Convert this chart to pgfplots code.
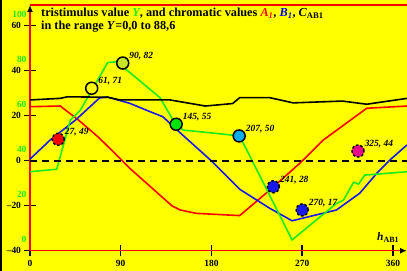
\documentclass[border=0pt]{standalone}
\usepackage{fontspec}
\setmainfont{Liberation Serif}
\usepackage{pgfplots}
\usepackage{pgfplotstable}
\pgfplotsset{compat=1.18}
\usetikzlibrary{arrows.meta}
\definecolor{bgy}{RGB}{255,255,0}
\definecolor{lgreen}{RGB}{30,235,30}
\definecolor{lime}{RGB}{200,230,40}
\definecolor{pblue}{RGB}{25,25,235}
\definecolor{pgreen}{RGB}{0,230,0}

\pgfplotstableread{
x y
0 24
30 24.3
48 18.1
69 10
99 -3.4
141 -20.1
149 -21.9
165 -23.4
208 -24.4
238 -13
268 -1
291 9.2
334 23.3
374 24.3
}\redtab

\pgfplotstableread{
x y
0 0.7
20 9.2
45 18
69 27.9
77 28.3
99 25.5
119 21.8
132 19.5
144 14.4
179 0.3
208 -12.7
238 -21.2
260 -26.7
304 -21.9
327 -14.5
344 -5.6
357 0.3
374 7
}\bluetab

\pgfplotstableread{
x y
0 -4.9
26.5 -3.8
40 18
50 22.5
77 43.6
86 44
96 40.3
129 28
142 18
145 16.2
152 13.6
179 12.4
200 11.4
208 11
260 -35.2
304 -19
311 -17.5
321 -9.6
326 -10.4
332 -6.4
374 -4.9
}\greentab

\pgfplotstableread{
x y
0 27
30 27.7
37 28.4
77 28.2
89 27
139 27
174 24.3
201 25.4
208 28
238 28
261 25.7
310 26.5
334 25.1
374 27.7
}\blacktab

\begin{document}
\begin{tikzpicture}
\fill[bgy] (0bp,0bp) rectangle (407bp,271bp);
\draw[black, line width=1.5bp] (0.75bp,0bp) -- (0.75bp,271bp);
\begin{axis}[
  at={(30bp,20.3bp)}, anchor=south west,
  scale only axis, width=377bp, height=245.7bp,
  xmin=0, xmax=374, ymin=-40, ymax=69.2,
  axis x line*=bottom, axis y line*=left,
  axis line style={red, line width=1.5bp},
  x axis line style={-{Latex[black,length=7bp,width=6bp]}},
  y axis line style={-{Latex[black,length=7bp,width=6bp]}},
  xtick={0,90,180,270,360}, xticklabels={0,90,180,270,360},
  ytick={-40,-20,0,20,40,60}, yticklabels={--40,--20,0,20,40,60},
  extra y ticks={65,45,25,5,-15,-35},
  extra y tick labels={100,80,60,40,20,0},
  extra y tick style={major tick length=0pt, yticklabel style={text=lgreen}},
  tick style={black, line width=1.5bp},
  major tick length=11bp, tick align=center,
  ticklabel style={font=\bfseries\fontsize{9.5}{10}\selectfont},
  xlabel={\bfseries\itshape h\textsubscript{\upshape AB1}},
  x label style={at={(axis description cs:0.95,0.02)}, anchor=south, font=\fontsize{11.5}{12}\selectfont},
  clip=false,
  nodes near coords style={anchor=west, inner sep=0pt, xshift=6bp, yshift=7bp, text=black, font=\bfseries\itshape\fontsize{9.5}{10}\selectfont},
]
\draw[red, line width=1.5bp] (rel axis cs:0,1) -- (rel axis cs:1,1);
\addplot[red, line width=1.6bp] table {\redtab};
\addplot[pblue, line width=1.6bp] table {\bluetab};
\addplot[lgreen, line width=1.6bp] table {\greentab};
\addplot[black, line width=1.6bp] table {\blacktab};
\addplot[black, line width=2bp, dash pattern=on 7bp off 5bp] coordinates {(0,0) (374,0)};
\addplot[only marks, mark=*, mark size=6bp, mark options={fill=red, draw=black, line width=1.5bp, dash pattern=on 2.5bp off 2bp}, nodes near coords, point meta=explicit symbolic] coordinates {(28,9.5) [27, 49]};
\addplot[only marks, mark=*, mark size=6bp, mark options={fill=bgy, draw=black, line width=1.5bp, solid}, nodes near coords, point meta=explicit symbolic] coordinates {(61.2,32.2) [61, 71]};
\addplot[only marks, mark=*, mark size=6bp, mark options={fill=lime, draw=black, line width=1.5bp, solid}, nodes near coords, point meta=explicit symbolic] coordinates {(92,43.4) [90, 82]};
\addplot[only marks, mark=*, mark size=6bp, mark options={fill=pgreen, draw=black, line width=1.5bp, solid}, nodes near coords, point meta=explicit symbolic] coordinates {(145,16.2) [145, 55]};
\addplot[only marks, mark=*, mark size=6bp, mark options={fill=cyan, draw=black, line width=1.5bp, solid}, nodes near coords, point meta=explicit symbolic] coordinates {(207.5,11) [207, 50]};
\addplot[only marks, mark=*, mark size=6bp, mark options={fill=pblue, draw=black, line width=1.5bp, dash pattern=on 2.5bp off 2bp}, nodes near coords, point meta=explicit symbolic] coordinates {(241.4,-11.6) [241, 28]};
\addplot[only marks, mark=*, mark size=6bp, mark options={fill=pblue, draw=black, line width=1.5bp, dash pattern=on 2.5bp off 2bp}, nodes near coords, point meta=explicit symbolic] coordinates {(270,-21.9) [270, 17]};
\addplot[only marks, mark=*, mark size=6bp, mark options={fill=magenta, draw=black, line width=1.5bp, dash pattern=on 2.5bp off 2bp}, nodes near coords, point meta=explicit symbolic] coordinates {(325.4,4.3) [325, 44]};
\end{axis}
\node[anchor=base west, inner sep=0pt, font=\bfseries\fontsize{12.3}{12}\selectfont] at (41bp,254.3bp) {tristimulus value \textcolor{lgreen}{\itshape Y}, and chromatic values \textcolor{red}{\itshape A\textsubscript{1}}, \textcolor{blue}{\itshape B\textsubscript{1}}, {\itshape C}\textsubscript{AB1}};
\node[anchor=base west, inner sep=0pt, font=\bfseries\fontsize{12.3}{12}\selectfont] at (41bp,241.5bp) {in the range \textit{Y}=0,0 to 88,6};
\pgfresetboundingbox
\path[use as bounding box] (0bp,0bp) rectangle (407bp,271bp);
\end{tikzpicture}
\end{document}
